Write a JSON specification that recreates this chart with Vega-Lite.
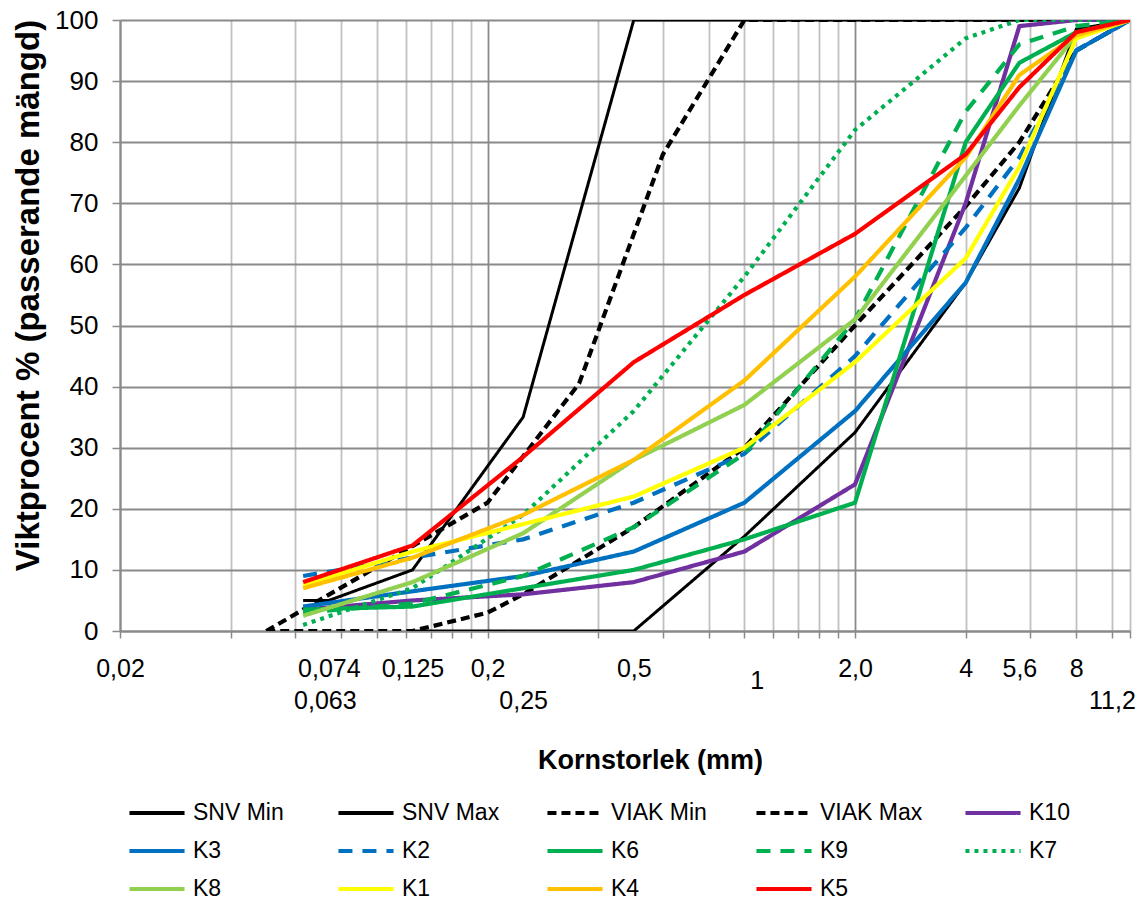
{
  "$schema": "https://vega.github.io/schema/vega-lite/v6.json",
  "width": 1010,
  "height": 611,
  "autosize": "none",
  "padding": {"left": 120, "top": 20, "right": 15, "bottom": 271},
  "background": "white",
  "config": {"view": {"stroke": null}, "font": "Liberation Sans"},
  "data": {"values": [
    {"s":"SNV Min","x":0.125,"y":0},{"s":"SNV Min","x":0.5,"y":0},{"s":"SNV Min","x":1,"y":15.5},{"s":"SNV Min","x":2,"y":32.5},{"s":"SNV Min","x":4,"y":57},{"s":"SNV Min","x":5.6,"y":72.5},{"s":"SNV Min","x":8,"y":98.5},{"s":"SNV Min","x":11.2,"y":100},
    {"s":"SNV Max","x":0.063,"y":5},{"s":"SNV Max","x":0.074,"y":5},{"s":"SNV Max","x":0.125,"y":10},{"s":"SNV Max","x":0.25,"y":35},{"s":"SNV Max","x":0.5,"y":100},{"s":"SNV Max","x":11.2,"y":100},
    {"s":"VIAK Min","x":0.05,"y":0},{"s":"VIAK Min","x":0.125,"y":0},{"s":"VIAK Min","x":0.2,"y":3},{"s":"VIAK Min","x":0.25,"y":6},{"s":"VIAK Min","x":0.5,"y":17},{"s":"VIAK Min","x":1,"y":30},{"s":"VIAK Min","x":2,"y":50},{"s":"VIAK Min","x":4,"y":69.5},{"s":"VIAK Min","x":5.6,"y":80},{"s":"VIAK Min","x":8,"y":95},{"s":"VIAK Min","x":11.2,"y":100},
    {"s":"VIAK Max","x":0.05,"y":0},{"s":"VIAK Max","x":0.2,"y":21},{"s":"VIAK Max","x":0.355,"y":40.5},{"s":"VIAK Max","x":0.6,"y":78},{"s":"VIAK Max","x":1,"y":100},{"s":"VIAK Max","x":11.2,"y":100},
    {"s":"K10","x":0.063,"y":3.5},{"s":"K10","x":0.125,"y":5},{"s":"K10","x":0.25,"y":6},{"s":"K10","x":0.5,"y":8},{"s":"K10","x":1,"y":13},{"s":"K10","x":2,"y":24},{"s":"K10","x":4,"y":70},{"s":"K10","x":5.6,"y":99},{"s":"K10","x":8,"y":100},{"s":"K10","x":11.2,"y":100},
    {"s":"K3","x":0.063,"y":4},{"s":"K3","x":0.125,"y":6.5},{"s":"K3","x":0.25,"y":9},{"s":"K3","x":0.5,"y":13},{"s":"K3","x":1,"y":21},{"s":"K3","x":2,"y":36},{"s":"K3","x":4,"y":57},{"s":"K3","x":5.6,"y":74},{"s":"K3","x":8,"y":95},{"s":"K3","x":11.2,"y":100},
    {"s":"K2","x":0.063,"y":9},{"s":"K2","x":0.125,"y":12},{"s":"K2","x":0.25,"y":15},{"s":"K2","x":0.5,"y":21},{"s":"K2","x":1,"y":29},{"s":"K2","x":2,"y":45},{"s":"K2","x":4,"y":66},{"s":"K2","x":5.6,"y":77.5},{"s":"K2","x":8,"y":95},{"s":"K2","x":11.2,"y":100},
    {"s":"K6","x":0.063,"y":3.5},{"s":"K6","x":0.125,"y":4},{"s":"K6","x":0.25,"y":7},{"s":"K6","x":0.5,"y":10},{"s":"K6","x":1,"y":15},{"s":"K6","x":2,"y":21},{"s":"K6","x":4,"y":80},{"s":"K6","x":5.6,"y":93},{"s":"K6","x":8,"y":98},{"s":"K6","x":11.2,"y":100},
    {"s":"K9","x":0.063,"y":3},{"s":"K9","x":0.125,"y":4.5},{"s":"K9","x":0.25,"y":9},{"s":"K9","x":0.5,"y":17},{"s":"K9","x":1,"y":29},{"s":"K9","x":2,"y":51},{"s":"K9","x":4,"y":85},{"s":"K9","x":5.6,"y":96},{"s":"K9","x":8,"y":99},{"s":"K9","x":11.2,"y":100},
    {"s":"K7","x":0.063,"y":1},{"s":"K7","x":0.125,"y":7},{"s":"K7","x":0.25,"y":19},{"s":"K7","x":0.5,"y":36},{"s":"K7","x":1,"y":58},{"s":"K7","x":2,"y":82},{"s":"K7","x":4,"y":97},{"s":"K7","x":5.6,"y":100},{"s":"K7","x":8,"y":100},{"s":"K7","x":11.2,"y":100},
    {"s":"K8","x":0.063,"y":2.5},{"s":"K8","x":0.125,"y":8},{"s":"K8","x":0.25,"y":16},{"s":"K8","x":0.5,"y":28},{"s":"K8","x":1,"y":37},{"s":"K8","x":2,"y":51},{"s":"K8","x":4,"y":74.5},{"s":"K8","x":5.6,"y":86},{"s":"K8","x":8,"y":97.5},{"s":"K8","x":11.2,"y":100},
    {"s":"K1","x":0.063,"y":7.5},{"s":"K1","x":0.125,"y":13},{"s":"K1","x":0.25,"y":17.5},{"s":"K1","x":0.5,"y":22},{"s":"K1","x":1,"y":30},{"s":"K1","x":2,"y":44},{"s":"K1","x":4,"y":61},{"s":"K1","x":5.6,"y":76},{"s":"K1","x":8,"y":97},{"s":"K1","x":11.2,"y":100},
    {"s":"K4","x":0.063,"y":7},{"s":"K4","x":0.125,"y":12},{"s":"K4","x":0.25,"y":19},{"s":"K4","x":0.5,"y":28},{"s":"K4","x":1,"y":41},{"s":"K4","x":2,"y":58},{"s":"K4","x":4,"y":77.5},{"s":"K4","x":5.6,"y":91},{"s":"K4","x":8,"y":97.5},{"s":"K4","x":11.2,"y":100},
    {"s":"K5","x":0.063,"y":8},{"s":"K5","x":0.125,"y":14},{"s":"K5","x":0.25,"y":28.5},{"s":"K5","x":0.5,"y":44},{"s":"K5","x":1,"y":55},{"s":"K5","x":2,"y":65},{"s":"K5","x":4,"y":78},{"s":"K5","x":5.6,"y":89},{"s":"K5","x":8,"y":98},{"s":"K5","x":11.2,"y":100}
  ]},
  "encoding": {
    "x": {
      "field": "x", "type": "quantitative",
      "scale": {"type": "log", "domain": [0.02, 11.2], "nice": false},
      "axis": {
        "values": [0.02,0.04,0.06,0.08,0.1,0.12,0.14,0.16,0.18,0.2,0.4,0.6,0.8,1,1.2,1.4,1.6,1.8,2,4,6,8,10,11.2,0.074,0.125,0.5,5.6,0.0722,0.25,1.08],
        "labelExpr": "datum.value==0.02?'0,02':datum.value==0.074?'0,074':datum.value==0.125?'0,125':datum.value==0.2?'0,2':datum.value==0.5?'0,5':datum.value==2?'2,0':datum.value==4?'4':datum.value==5.6?'5,6':datum.value==8?'8':datum.value==0.0722?'0,063':datum.value==0.25?'0,25':datum.value==1.08?'1':datum.value==10?'11,2':''",
        "labelOverlap": false,
        "labelFlush": false,
        "labelFontSize": 25,
        "labelColor": "#000000",
        "labelPadding": {"condition": [{"test": "datum.value==0.0722||datum.value==0.25||datum.value==10", "value": 50}, {"test": "datum.value==1.08", "value": 30}], "value": 18},
        "grid": true,
        "gridWidth": 1.8,
        "gridColor": {"condition": {"test": "datum.value==0.02||datum.value==0.2||datum.value==2", "value": "#8a8a8a"}, "value": "#c0c0c0"},
        "gridOpacity": {"condition": {"test": "datum.value==0.074||datum.value==0.125||datum.value==0.5||datum.value==5.6||datum.value==0.0722||datum.value==0.25||datum.value==1.08", "value": 0}, "value": 1},
        "ticks": true,
        "tickSize": 7,
        "tickWidth": 1.5,
        "tickColor": "#8a8a8a",
        "tickOpacity": {"condition": {"test": "datum.value==0.074||datum.value==0.125||datum.value==0.5||datum.value==5.6||datum.value==0.0722||datum.value==0.25||datum.value==1.08", "value": 0}, "value": 1},
        "domainColor": "#8a8a8a",
        "domainWidth": 2,
        "title": "Kornstorlek (mm)",
        "titleFontSize": 27,
        "titleFontWeight": "bold",
        "titleColor": "#000000",
        "titleX": 530,
        "titleY": 129,
        "titleAlign": "center",
        "titleBaseline": "middle"
      }
    },
    "y": {
      "field": "y", "type": "quantitative",
      "scale": {"domain": [0, 100], "nice": false},
      "axis": {
        "values": [0,10,20,30,40,50,60,70,80,90,100],
        "grid": true,
        "gridColor": "#8a8a8a",
        "gridWidth": 1.8,
        "tickSize": 8,
        "tickWidth": 1.5,
        "tickColor": "#8a8a8a",
        "domainColor": "#8a8a8a",
        "domainWidth": 2,
        "labelFontSize": 26,
        "labelColor": "#000000",
        "labelPadding": 14,
        "title": "Viktprocent % (passerande mängd)",
        "titleFontSize": 33,
        "titleFontWeight": "bold",
        "titleColor": "#000000",
        "titleX": -92,
        "titleY": 275,
        "titleAlign": "center",
        "titleBaseline": "middle"
      }
    },
    "color": {
      "field": "s", "type": "nominal",
      "scale": {
        "domain": ["SNV Min","SNV Max","VIAK Min","VIAK Max","K10","K3","K2","K6","K9","K7","K8","K1","K4","K5"],
        "range": ["#000000","#000000","#000000","#000000","#7030A0","#0070C0","#0070C0","#00B050","#00B050","#00B050","#92D050","#FFFF00","#FFC000","#FF0000"]
      },
      "legend": {
        "title": null,
        "orient": "none",
        "legendX": 16,
        "legendY": 772,
        "direction": "horizontal",
        "columns": 5,
        "gridAlign": "all",
        "columnPadding": 34,
        "rowPadding": 5,
        "symbolType": "M-1.45,0H1.45",
        "symbolSize": 1444,
        "symbolStrokeWidth": 4,
        "labelFontSize": 23,
        "labelColor": "#000000",
        "labelOffset": 15,
        "labelLimit": 300
      }
    },
    "strokeDash": {
      "field": "s", "type": "nominal",
      "scale": {
        "domain": ["SNV Min","SNV Max","VIAK Min","VIAK Max","K10","K3","K2","K6","K9","K7","K8","K1","K4","K5"],
        "range": [[1,0],[1,0],[9,5],[9,5],[1,0],[1,0],[14,10],[1,0],[14,10],[4,5],[1,0],[1,0],[1,0],[1,0]]
      }
    }
  },
  "layer": [
    {
      "transform": [{"filter": "datum.s == 'SNV Min' || datum.s == 'SNV Max'"}],
      "mark": {"type": "line", "clip": true, "strokeWidth": 3}
    },
    {
      "transform": [{"filter": "datum.s != 'SNV Min' && datum.s != 'SNV Max'"}],
      "mark": {"type": "line", "clip": true, "strokeWidth": 4.2}
    }
  ]
}
